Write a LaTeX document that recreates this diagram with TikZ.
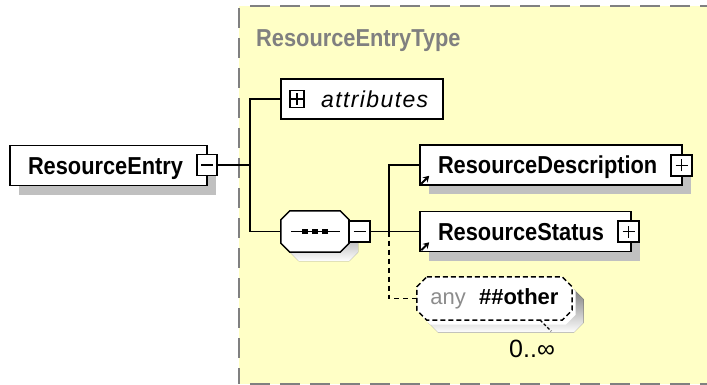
\documentclass[tikz,border=0pt]{standalone}
\usepackage{fontspec}
\setmainfont{Liberation Sans}
\newfontfamily\spacedfont[LetterSpace=6]{Liberation Sans}
\newfontfamily\narrowfont[FakeStretch=0.89]{Liberation Sans}
\usetikzlibrary{calc,shadows,arrows.meta}
\definecolor{bgyellow}{HTML}{FFFFC6}
\definecolor{framegray}{HTML}{808080}
\definecolor{shade}{HTML}{C0C0C0}
\definecolor{anygray}{HTML}{8C8C8C}
\newcommand\octpath[2]{($(#1.north west)+(#2,0)$) -- ($(#1.north east)+(-#2,0)$) -- ($(#1.north east)+(0,#2)$) -- ($(#1.south east)+(0,-#2)$) -- ($(#1.south east)+(-#2,0)$) -- ($(#1.south west)+(#2,0)$) -- ($(#1.south west)+(0,-#2)$) -- ($(#1.north west)+(0,#2)$) -- cycle}
\tikzset{
  x=1pt,y=-1pt,
  conn/.style={line width=1.5pt},
  dconn/.style={line width=1.5pt, dash pattern=on 5pt off 4pt},
  shadowed/.style={general shadow={fill=shade, shadow xshift=9pt, shadow yshift=-9pt}},
  elbox/.style={draw, line width=1.5pt, fill=white, minimum height=40pt,
    inner xsep=18pt, inner ysep=0pt, align=left,
    font=\fontsize{24.5}{26}\narrowfont\bfseries, text height=17.5pt, text depth=0pt, shadowed},
  pmbox/.style={draw, line width=1.5pt, fill=white, minimum width=20pt, minimum height=21pt, inner sep=0pt},
  minusbox/.style={pmbox, path picture={\draw[line width=1.3pt]
      ([xshift=-6pt]path picture bounding box.center) -- ([xshift=6pt]path picture bounding box.center);}},
  plusbox/.style={pmbox, path picture={\draw[line width=1.3pt]
      ([xshift=-6pt]path picture bounding box.center) -- ([xshift=6pt]path picture bounding box.center)
      ([yshift=-6pt]path picture bounding box.center) -- ([yshift=6pt]path picture bounding box.center);}},
  octhold/.style={rectangle, draw=none, inner sep=0pt},
  octline/.style={line width=1.5pt, fill=white},
  refarrow/.style={line width=1.8pt, -{Stealth[length=6pt,width=7pt]}},
}
\begin{document}
\begin{tikzpicture}
\useasboundingbox (0,0) rectangle (707,385);
% type frame
\fill[bgyellow] (239,6) rectangle (730,384);
\draw[framegray, line width=2pt, dash pattern=on 20pt off 10pt] (250,6) -- (730,6);
\draw[framegray, line width=2pt, dash pattern=on 20pt off 10pt] (239,8) -- (239,384);
\draw[framegray, line width=2pt, dash pattern=on 20pt off 10pt] (250,384) -- (730,384);
\node[anchor=base west, text=framegray, font=\fontsize{24.5}{26}\narrowfont\bfseries, inner sep=0pt] (typelabel) at (256,46.5) {ResourceEntryType};

% root element
\node[elbox, text width=161pt] (entry) at (108.5,165.5) {ResourceEntry};
\node[minusbox] (entrym) at (207,165) {};

% attributes
\node[draw, line width=1.5pt, fill=white, minimum width=162pt, minimum height=40pt, inner sep=0pt] (attr) at (362,99) {};
\node[plusbox, minimum width=14pt, minimum height=17pt] (attrp) at (297,99) {};
\node[anchor=base west, font=\fontsize{23}{26}\selectfont\spacedfont\itshape, inner sep=0pt] (attrlabel) at (321,107.5) {attributes};

% sequence compositor
\node[octhold, minimum width=68pt, minimum height=41pt] (seq) at (315,231.5) {};
\begin{scope}[transform canvas={xshift=9pt,yshift=-9pt}]
  \fill[shade] \octpath{seq}{9};
\end{scope}
\draw[octline] \octpath{seq}{9};
\draw[conn] ([xshift=-24pt]seq.center) -- ([xshift=25pt]seq.center);
\foreach \dx in {-10,0,10} {
  \fill ([xshift=\dx pt]seq.center) +(-2.7,-2.7) rectangle +(2.7,2.7);
}
\node[minusbox, minimum width=21pt] (seqm) at (359.5,231.5) {};

% children
\node[elbox, text width=226pt] (desc) at (551,165) {ResourceDescription};
\node[plusbox, minimum width=21pt] (descp) at (681.5,165.5) {};
\draw[refarrow] ([shift={(2,-2)}]desc.south west) -- ++(8,-8);

\node[elbox, text width=175pt] (status) at (525.5,231.5) {ResourceStatus};
\node[plusbox, minimum width=21pt] (statusp) at (628.5,231.5) {};
\draw[refarrow] ([shift={(2,-2)}]status.south west) -- ++(8,-8);

% any wildcard (repeated)
\node[octhold, minimum width=155pt, minimum height=43pt] (anyback) at (498,303) {};
\node[octhold, minimum width=155pt, minimum height=43pt] (any) at (494.5,298.5) {};
\begin{scope}[transform canvas={xshift=8pt,yshift=-8pt}]
  \fill[shade] \octpath{anyback}{10};
\end{scope}
\fill[white] \octpath{anyback}{10};
\draw[line width=1.3pt, dash pattern=on 3pt off 2pt] ([xshift=-32pt]any.south east) -- ++(11,11);
\draw[octline, dash pattern=on 5pt off 3pt] \octpath{any}{10};
\node[font=\fontsize{22}{24}\selectfont] (anylabel) at (any) {{\color{anygray}any} \hspace{7pt}\textbf{\#\#other}};
\node[anchor=base west, font=\fontsize{25}{27}\selectfont, inner sep=0pt] (mult) at (509,357) {0..∞};

% connectors
\coordinate (j1) at (250,165);
\coordinate (j2) at (389,231.5);
\draw[conn] (entrym.east) -- (j1);
\draw[conn] (j1) |- (attr.west);
\draw[conn] (j1) |- (seq.west);
\draw[conn] (seqm.east) -- (j2);
\draw[conn] (j2) |- (desc.west);
\draw[conn] (j2) -- (status.west);
\draw[dconn] (j2) |- (any.west);
\end{tikzpicture}
\end{document}
